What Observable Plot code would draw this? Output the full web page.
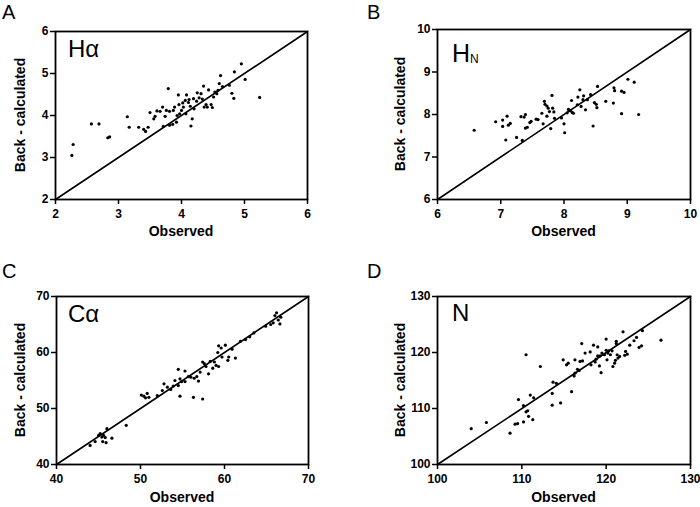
<!DOCTYPE html>
<html><head><meta charset="utf-8">
<script src="https://cdn.jsdelivr.net/npm/d3@7"></script>
<script src="https://cdn.jsdelivr.net/npm/@observablehq/plot@0.6"></script>
<style>
body{margin:0;background:#fff}
#wrap{position:relative;width:700px;height:507px;overflow:hidden;font-family:"Liberation Sans",Arial,sans-serif}
#wrap svg{position:absolute}
</style></head><body><div id="wrap"></div>
<script>
// Panel A: H-alpha
const haObs  = [2.26,2.28,2.57,2.69,2.83,2.86,3.14,3.17,3.32,3.40,3.43,3.47,3.50,3.56,3.58,3.61,3.66,3.70,3.71,3.74,3.79,3.76,3.81,3.81,3.86,3.87,3.89,3.92,3.93,3.95,3.96,3.97,4.00,4.02,4.03,4.06,4.07,4.08,4.11,4.12,4.14,4.15,4.17,4.19,4.20,4.24,4.25,4.28,4.31,4.33,4.35,4.36,4.41,4.43,4.47,4.49,4.51,4.53,4.56,4.58,4.60,4.62,4.65,4.76,4.80,4.83,4.84,4.95,5.01,5.24,4.39];
const haCalc = [3.05,3.31,3.80,3.80,3.47,3.49,3.97,3.72,3.72,3.67,3.62,3.72,4.07,3.92,3.98,4.11,4.10,4.20,3.74,3.98,4.64,4.12,4.10,3.77,3.79,4.12,4.20,3.84,4.00,4.49,4.26,4.04,4.12,4.30,4.20,4.36,4.04,4.49,4.31,4.38,4.22,3.75,3.92,4.40,4.16,4.34,4.54,4.42,4.52,4.39,4.70,4.20,4.20,4.61,4.26,4.19,4.44,4.56,4.52,4.60,4.76,4.95,4.69,4.72,4.53,4.41,5.04,5.23,4.86,4.43,4.26];
// Panel B: H-N
const hnObs  = [6.58,6.92,7.03,7.03,7.08,7.10,7.12,7.15,7.25,7.32,7.34,7.37,7.39,7.39,7.42,7.46,7.48,7.56,7.59,7.65,7.67,7.69,7.70,7.73,7.73,7.75,7.77,7.79,7.81,7.82,7.84,7.85,7.96,8.00,8.01,8.05,8.07,8.10,8.12,8.13,8.15,8.21,8.22,8.25,8.27,8.30,8.31,8.34,8.37,8.42,8.46,8.48,8.51,8.52,8.53,8.66,8.78,8.79,8.80,8.91,8.91,8.95,9.01,9.11,9.18];
const hnCalc = [7.63,7.83,7.87,7.72,7.40,7.96,7.75,7.79,7.46,7.95,7.39,7.94,8.00,7.68,7.70,7.81,7.84,7.89,7.88,8.03,7.78,8.31,8.24,8.20,7.96,8.15,8.07,7.67,8.45,8.15,8.06,7.91,7.92,7.78,7.57,8.04,8.12,8.09,8.33,8.05,8.03,8.23,8.41,8.58,8.19,8.35,8.44,8.11,8.35,8.47,7.73,8.28,8.24,8.16,8.66,8.31,8.27,8.63,8.56,8.55,8.02,8.52,8.83,8.76,8.00];
// Panel C: C-alpha
const caObs  = [44.0,44.6,45.0,45.2,45.4,45.5,45.6,45.8,45.9,46.0,46.6,48.3,50.1,50.4,50.6,50.8,51.0,52.0,52.6,52.8,53.2,53.6,53.9,54.1,54.5,54.5,54.7,54.7,54.9,55.3,55.3,55.7,56.0,56.3,56.4,56.7,56.9,57.1,57.4,57.4,57.6,57.8,58.1,58.3,58.6,58.8,59.0,59.2,59.3,59.3,59.6,59.7,60.1,60.4,60.5,60.9,61.3,61.9,62.5,63.0,63.5,64.9,65.5,65.8,66.0,66.2,66.4,66.6,66.7];
const caCalc = [43.4,44.1,45.2,45.5,44.9,44.1,45.2,44.8,43.9,46.4,44.7,47.0,52.4,52.2,51.9,52.7,52.0,52.3,53.2,54.4,53.8,53.4,54.0,55.0,57.0,54.1,52.2,55.3,54.8,56.7,54.8,55.7,55.6,52.0,55.4,55.7,54.9,56.5,51.7,58.3,58.0,57.5,56.2,58.4,57.2,58.3,57.7,60.0,61.2,57.5,60.8,59.2,61.3,58.6,59.2,60.6,59.0,62.0,62.3,62.8,63.5,64.7,65.0,65.3,66.6,67.1,65.8,65.1,66.3];
// Panel D: N
const nObs  = [104.0,105.8,108.6,109.2,109.5,109.6,110.2,110.2,110.5,110.7,110.8,110.5,111.0,111.3,111.4,112.2,113.6,113.6,113.7,114.1,114.6,114.9,115.3,115.5,115.9,116.2,116.3,116.3,116.6,116.8,116.9,117.1,117.2,117.5,118.1,118.2,118.5,118.7,118.8,119.0,119.0,119.2,119.3,119.4,119.5,119.8,120.0,120.0,120.1,120.2,120.3,120.5,120.7,120.8,121.0,121.1,121.2,121.2,121.3,121.4,121.6,122.0,122.2,122.3,122.5,122.8,123.3,123.6,123.9,124.2,124.3,126.5];
const nCalc = [106.4,107.5,105.6,107.2,107.3,111.6,107.6,110.5,109.4,109.6,108.6,119.6,112.4,108.0,111.9,117.5,110.6,112.7,114.7,114.5,111.0,118.7,117.8,118.1,113.0,115.8,116.3,118.7,117.0,116.8,118.4,121.6,118.5,119.9,120.1,117.8,121.3,118.3,118.8,119.4,121.0,117.6,119.4,116.4,119.9,119.6,120.4,122.4,118.7,119.9,120.3,119.6,120.3,117.5,118.1,118.6,122.0,121.6,119.6,119.0,119.3,123.7,119.5,120.2,119.7,121.3,122.1,122.7,120.9,121.2,123.9,122.2];

const haTicks = [2,3,4,5,6];
const hnTicks = [6,7,8,9,10];
const caTicks = [40,50,60,70];
const nTicks  = [100,110,120,130];

const panels = [
  {letter:"A", label:"Hα", sub:null, obs:haObs, calc:haCalc, ticks:haTicks, left:0, top:0, height:253,
   mL:55, mR:43, mT:31, mB:54, lx:2, ly:19, ix:68, iy:57, isz:24, ox:181, oy:236, yx:25, yy:115},
  {letter:"B", label:"H", sub:"N", obs:hnObs, calc:hnCalc, ticks:hnTicks, left:350, top:0, height:253,
   mL:87, mR:10, mT:29, mB:54, lx:17, ly:19, ix:102, iy:62, isz:25, ox:213.5, oy:236, yx:55, yy:114},
  {letter:"C", label:"Cα", sub:null, obs:caObs, calc:caCalc, ticks:caTicks, left:0, top:253, height:254,
   mL:56, mR:42, mT:43, mB:43, lx:2, ly:25, ix:68, iy:69, isz:24, ox:182, oy:249, yx:25, yy:127},
  {letter:"D", label:"N", sub:null, obs:nObs, calc:nCalc, ticks:nTicks, left:350, top:253, height:254,
   mL:87, mR:10, mT:43, mB:43, lx:17, ly:25, ix:102, iy:68, isz:24, ox:213.5, oy:249, yx:55, yy:127}
];

const wrap = document.getElementById("wrap");
const FONT = "Liberation Sans, Arial, Helvetica, sans-serif";
const fmt = d3.format("d");

for (const c of panels) {
  const data = c.obs.map((x, i) => ({x, y: c.calc[i]}));
  const dom = [c.ticks[0], c.ticks[c.ticks.length - 1]];
  const diag = dom.map(v => ({x: v, y: v}));
  const svg = Plot.plot({
    width: 350, height: c.height,
    marginLeft: c.mL, marginRight: c.mR, marginTop: c.mT, marginBottom: c.mB,
    style: {fontFamily: FONT, fontSize: "12px", fontWeight: "bold", color: "black", background: "transparent", overflow: "visible"},
    x: {domain: dom, label: null},
    y: {domain: dom, label: null},
    marks: [
      Plot.axisX({ticks: c.ticks, tickFormat: fmt, tickSize: 5, tickPadding: 5, strokeWidth: 1.5, label: null}),
      Plot.axisY({ticks: c.ticks, tickFormat: fmt, tickSize: 5, tickPadding: 2, strokeWidth: 1.5, label: null}),
      Plot.line(diag, {x: "x", y: "y", stroke: "black", strokeWidth: 1.6}),
      Plot.dot(data, {x: "x", y: "y", r: 1.6, fill: "black", stroke: null}),
      Plot.frame({stroke: "black", strokeWidth: 1.8})
    ]
  });
  svg.style.left = c.left + "px";
  svg.style.top = c.top + "px";
  const s = d3.select(svg);
  s.append("text").attr("x", c.lx).attr("y", c.ly).attr("font-size", 20).attr("font-weight", "normal")
    .attr("text-anchor", "start").attr("font-family", FONT).attr("fill", "black").text(c.letter);
  const t = s.append("text").attr("x", c.ix).attr("y", c.iy).attr("font-size", c.isz).attr("font-weight", "normal")
    .attr("text-anchor", "start").attr("font-family", FONT).attr("fill", "black").text(c.label);
  if (c.sub) t.append("tspan").attr("font-size", 12).attr("dy", 1).text(c.sub);
  s.append("text").attr("x", c.ox).attr("y", c.oy).attr("font-size", 14).attr("font-weight", "bold")
    .attr("font-family", FONT).attr("text-anchor", "middle").attr("fill", "black").text("Observed");
  s.append("text").attr("transform", `translate(${c.yx},${c.yy}) rotate(-90)`).attr("font-size", 14).attr("font-weight", "bold")
    .attr("font-family", FONT).attr("text-anchor", "middle").attr("fill", "black").text("Back - calculated");
  wrap.appendChild(svg);
}
</script></body></html>
